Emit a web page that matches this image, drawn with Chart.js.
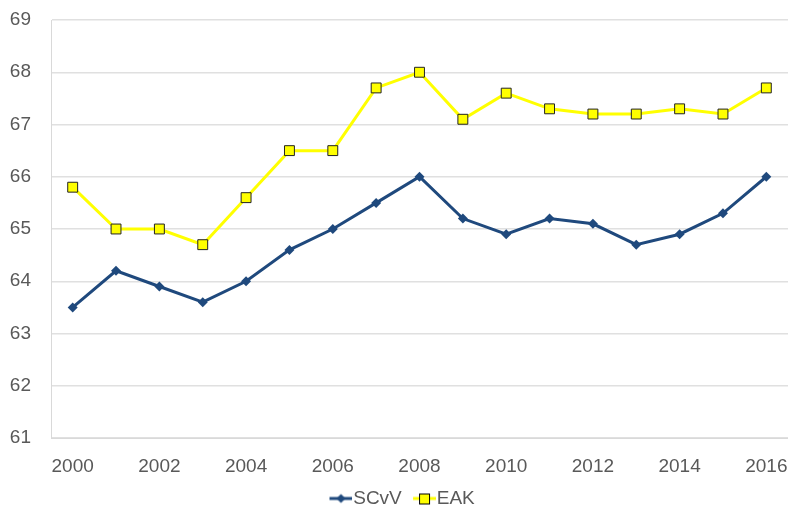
<!DOCTYPE html>
<html>
<head>
<meta charset="utf-8">
<script src="https://cdn.jsdelivr.net/npm/chart.js@4"></script>
<style>
  html, body { margin: 0; padding: 0; background: #fff; overflow: hidden; }
  #wrap { width: 788px; height: 510px; }
</style>
</head>
<body>
<div id="wrap"><canvas id="chart"></canvas></div>
<script>
// ─── Data ───
const years = ['2000','2001','2002','2003','2004','2005','2006','2007','2008',
               '2009','2010','2011','2012','2013','2014','2015','2016'];
const scvv = [63.5, 64.2, 63.9, 63.6, 64.0, 64.6, 65.0, 65.5, 66.0,
              65.2, 64.9, 65.2, 65.1, 64.7, 64.9, 65.3, 66.0];
const eak  = [65.8, 65.0, 65.0, 64.7, 65.6, 66.5, 66.5, 67.7, 68.0,
              67.1, 67.6, 67.3, 67.2, 67.2, 67.3, 67.2, 67.7];

const NAVY = '#1F497D';
const YELLOW = '#FFFF00';
const FONT = "'Liberation Sans', Arial, sans-serif";

// legend icon: short line with marker, transparent lead-in keeps the gap between items
function legendIcon(kind) {
    const L = 20;
    const c = document.createElement('canvas');
    c.width = 43; c.height = 14;
    const g = c.getContext('2d');
    g.lineWidth = 3;
    g.strokeStyle = kind === 'diamond' ? NAVY : YELLOW;
    g.beginPath(); g.moveTo(L, 7); g.lineTo(L + 23, 7); g.stroke();
    if (kind === 'diamond') {
        g.fillStyle = NAVY;
        g.beginPath();
        g.moveTo(L + 11.5, 2.5); g.lineTo(L + 16, 7); g.lineTo(L + 11.5, 11.5); g.lineTo(L + 7, 7);
        g.closePath(); g.fill();
    } else {
        g.fillStyle = YELLOW;
        g.strokeStyle = '#000';
        g.lineWidth = 1;
        g.fillRect(L + 6.5, 2.5, 10, 10);
        g.strokeRect(L + 6.5, 2.5, 10, 10);
    }
    return c;
}
const icons = [legendIcon('diamond'), legendIcon('square')];

// drop the auto label padding chart.js adds around the plot
const noPad = s => { s.paddingLeft = 0; s.paddingRight = 0; s.paddingTop = 0; s.paddingBottom = 0; };

new Chart(document.getElementById('chart').getContext('2d'), {
    type: 'line',
    data: {
        labels: years,
        datasets: [{
            label: 'SCvV',
            data: scvv,
            borderColor: NAVY,
            backgroundColor: NAVY,
            borderWidth: 3,
            pointStyle: 'rectRot',
            pointRadius: 5,
            pointBorderWidth: 0,
            tension: 0
        }, {
            label: 'EAK',
            data: eak,
            borderColor: YELLOW,
            backgroundColor: YELLOW,
            borderWidth: 3,
            pointStyle: 'rect',
            pointRadius: 7,
            pointBorderColor: '#222',
            pointBorderWidth: 1,
            tension: 0
        }]
    },
    options: {
        responsive: true,
        maintainAspectRatio: false,
        animation: false,
        layout: { autoPadding: false, padding: { top: 20, right: 0, left: 5, bottom: -8 } },
        scales: {
            x: {
                offset: true,
                grid: { display: false, drawTicks: false },
                border: { color: '#d9d9d9', width: 1 },
                afterFit: s => { noPad(s); s.height = 51; },
                ticks: {
                    autoSkip: false,
                    maxRotation: 0,
                    padding: 17,
                    color: '#595959',
                    font: { family: FONT, size: 19 },
                    callback: function (v, i) { return i % 2 === 0 ? this.getLabelForValue(v) : ''; }
                }
            },
            y: {
                min: 61, max: 69,
                grid: { color: '#e0e0e0', lineWidth: 1.5, drawTicks: false },
                border: { color: '#d9d9d9', width: 1 },
                afterFit: s => { noPad(s); s.width = 46; },
                ticks: {
                    stepSize: 1,
                    padding: 20,
                    color: '#595959',
                    font: { family: FONT, size: 19 }
                }
            }
        },
        plugins: {
            legend: {
                position: 'bottom',
                labels: {
                    usePointStyle: true,
                    pointStyleWidth: 25.5,
                    boxHeight: 14,
                    color: '#595959',
                    font: { family: FONT, size: 19 },
                    padding: 0,
                    generateLabels: chart => chart.data.datasets.map((ds, i) => ({
                        text: ds.label,
                        pointStyle: icons[i],
                        fontColor: '#595959',
                        datasetIndex: i,
                        hidden: false,
                        lineWidth: 0
                    }))
                }
            },
            tooltip: { enabled: false }
        }
    }
});
</script>
</body>
</html>
